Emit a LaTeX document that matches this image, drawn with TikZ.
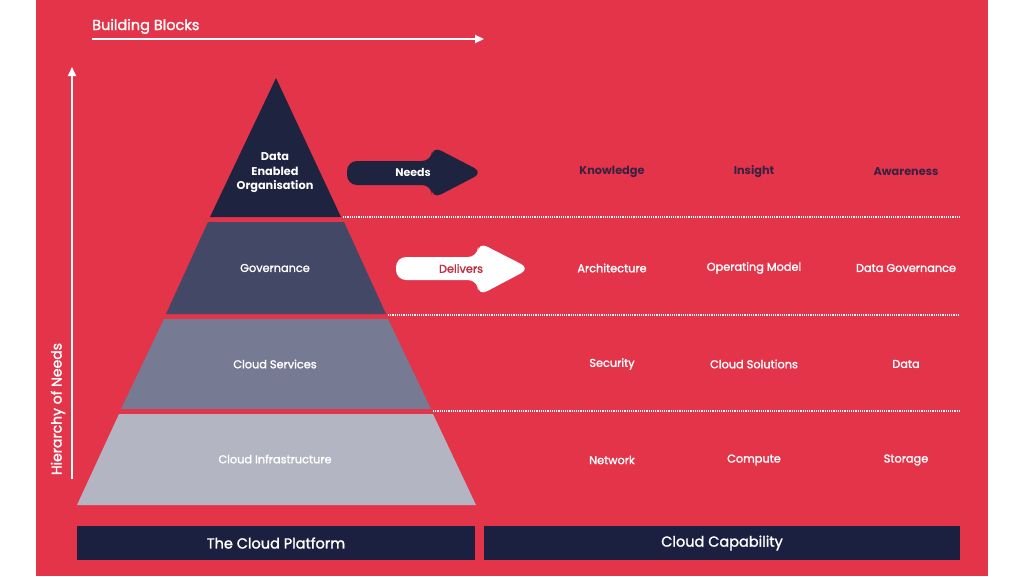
\documentclass[tikz,border=0pt]{standalone}
\usepackage{fontspec}
\setmainfont{Poppins}
\newfontfamily\medfont{Poppins}[FakeBold=1.6]
\usetikzlibrary{arrows.meta}
\definecolor{bgred}{HTML}{E3344A}
\definecolor{navy}{HTML}{1E2340}
\definecolor{gov}{HTML}{434866}
\definecolor{serv}{HTML}{777A93}
\definecolor{infra}{HTML}{B4B5C3}
\definecolor{bar}{HTML}{1C2040}
\definecolor{darktext}{HTML}{3A2142}
\tikzset{
  lbl/.style={font=\medfont\fontsize{11.3}{12}\selectfont, text=white, align=center, inner sep=0pt},
  toplbl/.style={lbl, text=darktext, font=\bfseries\fontsize{11.3}{12}\selectfont},
  dotline/.style={white, line width=1.6pt, dash pattern=on 1.2pt off 1pt},
  barbox/.style={fill=bar, draw=none, minimum height=34pt, inner sep=0pt, text=white, font=\medfont\fontsize{14.5}{16}\selectfont},
}
\begin{document}
\begin{tikzpicture}[x=1pt,y=-1pt]
\useasboundingbox (0,0) rectangle (1024,576);
\fill[white] (0,0) rectangle (1024,576);
\fill[bgred] (36,0) rectangle (988,576);

% top axis
\node[anchor=base west, text=white, font=\medfont\fontsize{14.5}{16}\selectfont, inner sep=0pt] (bb) at (92,30) {Building Blocks};
\coordinate (bbs) at (92,39);
\coordinate (bbe) at (484,39);
\draw[white, line width=1.8pt, -{Triangle[length=9pt,width=8pt]}] (bbs) -- (bbe);

% vertical axis
\coordinate (vs) at (72,479);
\coordinate (ve) at (72,67);
\draw[white, line width=1.8pt, -{Triangle[length=9pt,width=8pt]}] (vs) -- (ve);
\node[rotate=90, text=white, font=\medfont\fontsize{14}{16}\selectfont, inner sep=0pt] (hn) at (58,409) {Hierarchy of Needs};

% pyramid
\fill[navy] (276,78) -- (341,217) -- (210,217) -- cycle;
\fill[gov] (208,222) -- (344,222) -- (386,314) -- (166,314) -- cycle;
\fill[serv] (164,319) -- (388,319) -- (431,409) -- (121,409) -- cycle;
\fill[infra] (119,414) -- (433,414) -- (476,505) -- (77,505) -- cycle;

\node[lbl, font=\bfseries\fontsize{11.3}{14.5}\selectfont] (deo) at (275,173) {Data\\Enabled\\Organisation};
\node[lbl] (govl) at (275,268) {Governance};
\node[lbl] (servl) at (275,364) {Cloud Services};
\node[lbl] (infral) at (275,459) {Cloud Infrastructure};

% dotted lines
\coordinate (d1a) at (343,217); \coordinate (d1b) at (960,217);
\coordinate (d2a) at (388,315); \coordinate (d2b) at (960,315);
\coordinate (d3a) at (433,411); \coordinate (d3b) at (960,411);
\draw[dotline] (d1a) -- (d1b);
\draw[dotline] (d2a) -- (d2b);
\draw[dotline] (d3a) -- (d3b);

% Needs arrow
\fill[navy, rounded corners=10pt] (347,161) -- (432,161) -- (432,146) -- (483,172.5) -- (432,199) -- (432,185) -- (347,185) -- cycle;
\node[lbl, font=\bfseries\fontsize{11}{12}\selectfont] (needs) at (413,172.5) {Needs};

% Delivers arrow
\fill[white, rounded corners=10pt] (396,257) -- (478,257) -- (478,242) -- (530,268.5) -- (478,296) -- (478,280) -- (396,280) -- cycle;
\node[lbl, text=bgred!85!black, font=\medfont\fontsize{11.3}{12}\selectfont] (deliv) at (461,268.5) {Delivers};

% columns
\node[toplbl] (k) at (612,172) {Knowledge};
\node[toplbl] (i) at (754,172) {Insight};
\node[toplbl] (a) at (906,172) {Awareness};
\node[lbl] (ar) at (612,268) {Architecture};
\node[lbl] (om) at (754,268) {Operating Model};
\node[lbl] (dg) at (906,268) {Data Governance};
\node[lbl] (se) at (612,364) {Security};
\node[lbl] (cs) at (754,364) {Cloud Solutions};
\node[lbl] (da) at (906,364) {Data};
\node[lbl] (ne) at (612,460) {Network};
\node[lbl] (co) at (754,460) {Compute};
\node[lbl] (st) at (906,460) {Storage};

% bottom bars
\node[barbox, minimum width=398pt] (cp) at (276,543) {The Cloud Platform};
\node[barbox, minimum width=476pt] (cc) at (722,543) {Cloud Capability};
\end{tikzpicture}
\end{document}
